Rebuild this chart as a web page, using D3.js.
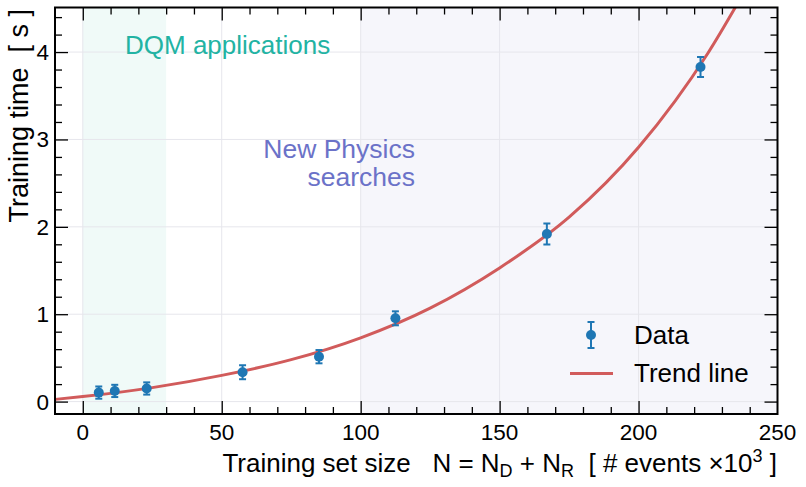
<!DOCTYPE html>
<html><head><meta charset="utf-8">
<script src="https://cdn.jsdelivr.net/npm/d3@7"></script>
<style>
body{margin:0;background:#fff;}
text{font-family:"Liberation Sans",Arial,Helvetica,sans-serif;}
</style></head>
<body><svg id="c" width="806" height="487"></svg>
<script>
// Data
const sizes = [5.75, 11.5, 23, 57.5, 85, 112.5, 167, 222.3];      // x (k events)
const times = [0.103, 0.122, 0.150, 0.336, 0.514, 0.953, 1.917, 3.83]; // seconds
const errs  = [0.07, 0.07, 0.07, 0.08, 0.076, 0.08, 0.12, 0.114];
const trendX = [-10, 0, 25, 50, 75, 100, 125, 150, 175, 200, 225, 240];
const trendY = [0.025, 0.057, 0.16, 0.30, 0.48, 0.73, 1.07, 1.53, 2.11, 2.91, 3.99, 4.80];
const xTicks = [0, 50, 100, 150, 200, 250];
const yTicks = [0, 1, 2, 3, 4];
const regions = [{x0:0, x1:30, fill:"#f0faf8"}, {x0:100, x1:250, fill:"#f6f6fb"}];

const svg = d3.select("#c");
const L=55, R=777.5, T=7.5, B=414;
const x = d3.scaleLinear().domain([-10,250]).range([L,R]);
const y = d3.scaleLinear().domain([-0.142,4.51]).range([B,T]);

svg.append("defs").append("clipPath").attr("id","clip")
  .append("rect").attr("x",L).attr("y",T).attr("width",R-L).attr("height",B-T);

const plot = svg.append("g").attr("clip-path","url(#clip)");
plot.selectAll("rect.reg").data(regions).enter().append("rect")
  .attr("x",d=>x(d.x0)).attr("width",d=>x(d.x1)-x(d.x0))
  .attr("y",T).attr("height",B-T).attr("fill",d=>d.fill);
plot.selectAll("line.gx").data(xTicks).enter().append("line")
  .attr("x1",d=>x(d)).attr("x2",d=>x(d)).attr("y1",T).attr("y2",B)
  .attr("stroke","#e6e6ec").attr("stroke-width",1);
plot.selectAll("line.gy").data(yTicks).enter().append("line")
  .attr("y1",d=>y(d)).attr("y2",d=>y(d)).attr("x1",L).attr("x2",R)
  .attr("stroke","#e6e6ec").attr("stroke-width",1);

svg.append("text").attr("x",125).attr("y",54).attr("font-size",26)
  .attr("fill","#22b3a3").text("DQM applications");
const np = svg.append("text").attr("text-anchor","end").attr("font-size",26.5).attr("fill","#6b72c8");
np.append("tspan").attr("x",415).attr("y",158).text("New Physics");
np.append("tspan").attr("x",415).attr("y",186).text("searches");

const line = d3.line().x((d,i)=>x(trendX[i])).y(d=>y(d)).curve(d3.curveMonotoneX);
plot.append("path").datum(trendY).attr("d",line)
  .attr("fill","none").attr("stroke","#d15b5b").attr("stroke-width",3);

const pts = plot.selectAll("g.pt").data(sizes.map((s,i)=>({s,t:times[i],e:errs[i]}))).enter().append("g");
pts.append("line").attr("x1",d=>x(d.s)).attr("x2",d=>x(d.s))
  .attr("y1",d=>y(d.t-d.e)).attr("y2",d=>y(d.t+d.e)).attr("stroke","#1f77b4").attr("stroke-width",2);
pts.selectAll("line.cap").data(d=>[[d.s,d.t-d.e],[d.s,d.t+d.e]]).enter().append("line")
  .attr("x1",d=>x(d[0])-3.5).attr("x2",d=>x(d[0])+3.5).attr("y1",d=>y(d[1])).attr("y2",d=>y(d[1]))
  .attr("stroke","#1f77b4").attr("stroke-width",2);
pts.append("circle").attr("cx",d=>x(d.s)).attr("cy",d=>y(d.t)).attr("r",5).attr("fill","#1f77b4");

const xMinor = d3.range(-10,251,10).filter(v=>!xTicks.includes(v));
const yMinor = d3.range(-0.2,4.6,0.2).map(v=>Math.round(v*10)/10).filter(v=>!yTicks.includes(v) && v>-0.142 && v<4.51);
const MJ=13, MN=7;
function ticks(g, vals, len){
  g.append("g").call(d3.axisBottom(x).tickValues(vals.filter(v=>v>-10&&v<250)).tickSize(-len).tickFormat(""))
   .attr("transform",`translate(0,${B})`);
  g.append("g").call(d3.axisTop(x).tickValues(vals.filter(v=>v>-10&&v<250)).tickSize(-len).tickFormat(""))
   .attr("transform",`translate(0,${T})`);
}
const tg = svg.append("g");
ticks(tg, xTicks, MJ); ticks(tg, xMinor, MN);
tg.append("g").attr("transform",`translate(${L},0)`).call(d3.axisLeft(y).tickValues(yTicks).tickSize(-MJ).tickFormat(""));
tg.append("g").attr("transform",`translate(${L},0)`).call(d3.axisLeft(y).tickValues(yMinor).tickSize(-MN).tickFormat(""));
tg.append("g").attr("transform",`translate(${R},0)`).call(d3.axisRight(y).tickValues(yTicks).tickSize(-MJ).tickFormat(""));
tg.append("g").attr("transform",`translate(${R},0)`).call(d3.axisRight(y).tickValues(yMinor).tickSize(-MN).tickFormat(""));
tg.selectAll(".domain").remove();
tg.selectAll(".tick line").attr("stroke","#000").attr("stroke-width",1.3);

svg.append("rect").attr("x",L).attr("y",T).attr("width",R-L).attr("height",B-T)
  .attr("fill","none").attr("stroke","#000").attr("stroke-width",2);

svg.selectAll("text.xl").data(xTicks).enter().append("text")
  .attr("x",d=>x(d)).attr("y",440).attr("text-anchor","middle").attr("font-size",22.5).text(d=>d);
svg.selectAll("text.yl").data(yTicks).enter().append("text")
  .attr("x",49).attr("y",d=>y(d)+8).attr("text-anchor","end").attr("font-size",22.5).text(d=>d);

const xl = svg.append("text").attr("x",777).attr("y",472).attr("text-anchor","end").attr("font-size",26)
  .style("white-space","pre");
xl.append("tspan").text("Training set size   N = N");
xl.append("tspan").attr("font-size",18).attr("dy",5).text("D");
xl.append("tspan").attr("dy",-5).text(" + N");
xl.append("tspan").attr("font-size",18).attr("dy",5).text("R");
xl.append("tspan").attr("dy",-5).text("  [ # events ×10");
xl.append("tspan").attr("font-size",18).attr("dy",-10).text("3");
xl.append("tspan").attr("dy",10).text(" ]");

svg.append("text").attr("transform","translate(28,9) rotate(-90)").attr("text-anchor","end")
  .attr("font-size",27).style("white-space","pre").text("Training time  [ s ]");

const lg = svg.append("g");
lg.append("line").attr("x1",591).attr("x2",591).attr("y1",322).attr("y2",348).attr("stroke","#1f77b4").attr("stroke-width",2);
lg.append("line").attr("x1",587.5).attr("x2",594.5).attr("y1",322).attr("y2",322).attr("stroke","#1f77b4").attr("stroke-width",2);
lg.append("line").attr("x1",587.5).attr("x2",594.5).attr("y1",348).attr("y2",348).attr("stroke","#1f77b4").attr("stroke-width",2);
lg.append("circle").attr("cx",591).attr("cy",335).attr("r",5).attr("fill","#1f77b4");
lg.append("text").attr("x",634).attr("y",344).attr("font-size",26).text("Data");
lg.append("line").attr("x1",570).attr("x2",613).attr("y1",373.5).attr("y2",373.5).attr("stroke","#d15b5b").attr("stroke-width",3);
lg.append("text").attr("x",634).attr("y",382).attr("font-size",26).text("Trend line");
</script></body></html>
